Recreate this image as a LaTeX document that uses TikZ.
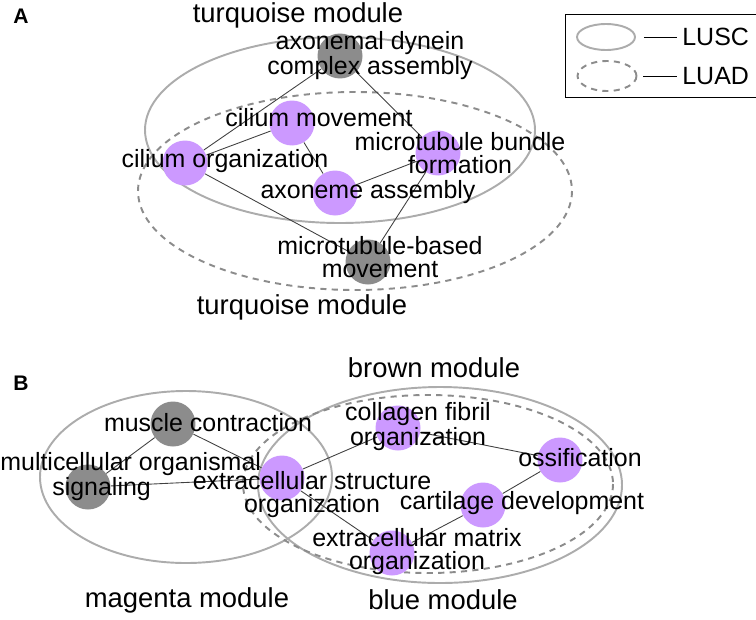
\documentclass[tikz,border=0pt]{standalone}
\usepackage{fontspec}
\setmainfont{Liberation Sans}
\usetikzlibrary{positioning,shapes.geometric}

\definecolor{termpurple}{RGB}{204,153,255}
\definecolor{termgray}{RGB}{140,140,140}
\definecolor{luscgray}{RGB}{172,172,172}
\definecolor{luadgray}{RGB}{140,140,140}

\begin{document}
\begin{tikzpicture}
    [ x=0.02cm, y=-0.02cm
    , term/.style={circle, minimum size=0.9cm, inner sep=0pt}
    , shared/.style={term, fill=termpurple}
    , single/.style={term, fill=termgray}
    , lbl/.style={align=center, inner sep=0pt, font=\fontsize{14.2}{13.1}\selectfont}
    , modname/.style={inner sep=0pt, font=\fontsize{15.6}{16}\selectfont}
    , panel/.style={inner sep=0pt, font=\fontsize{12}{12}\selectfont\bfseries}
    , lusc/.style={draw=luscgray, line width=1.1pt}
    , luad/.style={draw=luadgray, line width=1.1pt, dash pattern=on 3.5pt off 3pt}
    , link/.style={draw=black!75, line width=0.5pt}
    ]
  \useasboundingbox (0,0) rectangle (756,619);

  % A: module outlines
  \draw[lusc] (340,130) ellipse [x radius=195, y radius=93];
  \draw[luad] (355,191) ellipse [x radius=217, y radius=99];

  \node[single] (axonemal) at (340,56) {};
  \node[shared] (ciliummov) at (292,123) {};
  \node[shared] (ciliumorg) at (185,163) {};
  \node[shared] (axoneme) at (335,193) {};
  \node[shared] (mtbundle) at (438,153) {};
  \node[single] (mtbased) at (368,262) {};

  \draw[link] (ciliumorg) -- (axonemal);
  \draw[link] (ciliumorg) -- (ciliummov);
  \draw[link] (ciliumorg) -- (mtbased);
  \draw[link] (ciliummov) -- (axoneme);
  \draw[link] (axonemal) -- (mtbundle);
  \draw[link] (axoneme) -- (mtbundle);
  \draw[link] (mtbased) -- (mtbundle);

  \node[lbl] (axonemaltxt) at (370,56) {axonemal dynein\\complex assembly};
  \node[lbl] (ciliummovtxt) at (319,118) {cilium movement};
  \node[lbl] (ciliumorgtxt) at (225,161) {cilium organization};
  \node[lbl] (axonemetxt) at (368,192) {axoneme assembly};
  \node[lbl] (mtbundletxt) at (460,153) {microtubule bundle\\formation};
  \node[lbl] (mtbasedtxt) at (380,257) {microtubule-based\\movement};

  \node[modname] (turqtop) at (298,15) {turquoise module};
  \node[modname] (turqbot) at (302,307) {turquoise module};
  \node[panel] (panelA) at (21,16) {A};

  % legend
  \draw (565,14) rectangle (770,97);
  \node[ellipse, lusc, minimum width=1.16cm, minimum height=0.52cm] (keylusc) at (606,37) {};
  \node[ellipse, luad, minimum width=1.18cm, minimum height=0.6cm] (keyluad) at (607,76) {};
  \node[lbl, anchor=west] (txtlusc) at (682,37) {LUSC};
  \node[lbl, anchor=west] (txtluad) at (682,76) {LUAD};
  \draw ([xshift=0.16cm]keylusc.east) -- ([xshift=-0.1cm]txtlusc.west);
  \draw ([xshift=0.12cm]keyluad.east) -- ([xshift=-0.1cm]txtluad.west);

  % B: module outlines
  \draw[lusc] (186,477) ellipse [x radius=146, y radius=86];
  \draw[lusc] (440,485) ellipse [x radius=182, y radius=98];
  \draw[luad] (428,484) ellipse [x radius=185, y radius=89];

  \node[single] (muscle) at (173,424) {};
  \node[single] (multicell) at (88,487) {};
  \node[shared] (ecstruct) at (282,478) {};
  \node[shared] (collagen) at (398,428) {};
  \node[shared] (ossif) at (560,460) {};
  \node[shared] (cartil) at (483,505) {};
  \node[shared] (ecmatrix) at (392,553) {};

  \draw[link] (muscle) -- (multicell);
  \draw[link] (muscle) -- (ecstruct);
  \draw[link] (multicell) -- (ecstruct);
  \draw[link] (ecstruct) -- (collagen);
  \draw[link] (ecstruct) -- (ecmatrix);
  \draw[link] (collagen) -- (ossif);
  \draw[link] (ossif) -- (cartil);
  \draw[link] (cartil) -- (ecmatrix);

  \node[lbl] (muscletxt) at (208,423) {muscle contraction};
  \node[lbl, align=left, anchor=west] (multicelltxt) at (0,477) {multicellular organismal\\\hspace*{29.6pt}signaling};
  \node[lbl] (ecstructtxt) at (312,495) {extracellular structure\\organization};
  \node[lbl] (collagentxt) at (418,427) {collagen fibril\\organization};
  \node[lbl] (ossiftxt) at (580,458) {ossification};
  \node[lbl] (cartiltxt) at (522,503) {cartilage development};
  \node[lbl] (ecmatrixtxt) at (417,552) {extracellular matrix\\organization};

  \node[modname] (brownmod) at (434,368) {brown module};
  \node[modname] (magentamod) at (187,600) {magenta module};
  \node[modname] (bluemod) at (443,600) {blue module};
  \node[panel] (panelB) at (21,383) {B};
\end{tikzpicture}
\end{document}
